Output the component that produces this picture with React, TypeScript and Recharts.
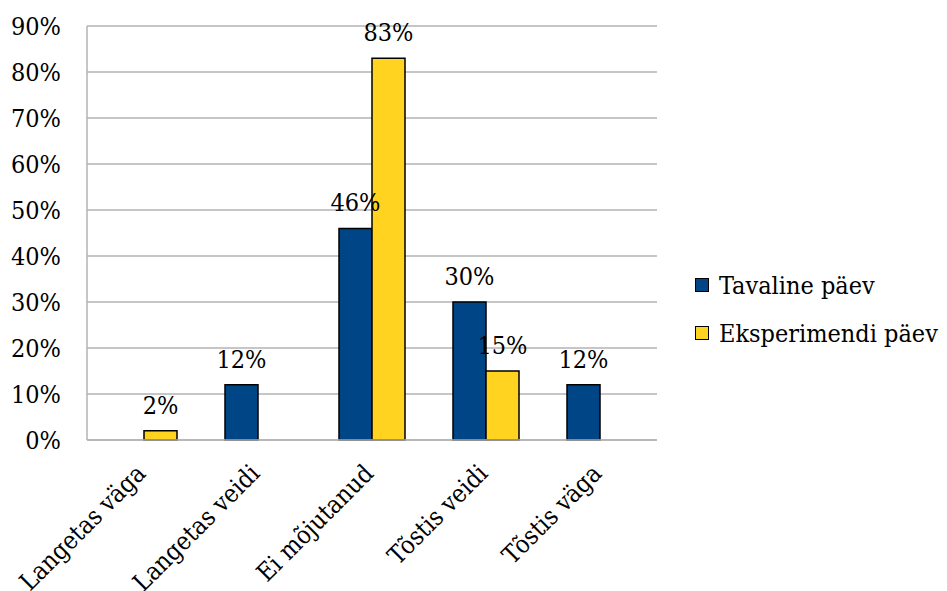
import { Bar, BarChart, CartesianGrid, LabelList, Legend, XAxis, YAxis } from "recharts";

const categories = ["Langetas väga", "Langetas veidi", "Ei mõjutanud", "Tõstis veidi", "Tõstis väga"];
const tavaline = [0, 12, 46, 30, 12];
const eksperimendi = [2, 0, 83, 15, 0];
const yTicks = [0, 10, 20, 30, 40, 50, 60, 70, 80, 90];

const seriesNames = ["Tavaline päev", "Eksperimendi päev"];
const seriesColors = ["#004586", "#ffd320"];

const data = categories.map((name, i) => ({
  name,
  tavaline: tavaline[i],
  eksperimendi: eksperimendi[i],
}));

// Liberation Serif is not picked up here, the condensed DejaVu face is the closest serif
const FONT = "'DejaVu Serif Condensed', 'DejaVu Serif'";
const FS = 25;
const textStyle = { fontFamily: FONT, fontSize: FS, fontStretch: "condensed" };
const GRID = "#b3b3b3";

function XTick({ x, y, payload }: any) {
  const tx = x + 3;
  const ty = y + 27;
  return (
    <text
      x={tx}
      y={ty}
      transform={`rotate(-45 ${tx} ${ty})`}
      textAnchor="end"
      style={textStyle}
      fill="#000"
    >
      {payload.value}
    </text>
  );
}

function LegendBox() {
  return (
    <div style={{ ...textStyle, color: "#000", whiteSpace: "nowrap" }}>
      {seriesNames.map((n, i) => (
        <div key={n} style={{ display: "flex", alignItems: "center", height: 48 }}>
          <span
            style={{
              display: "inline-block",
              width: 12,
              height: 12,
              background: seriesColors[i],
              border: "1.5px solid #000",
              marginRight: 10,
            }}
          />
          <span>{n}</span>
        </div>
      ))}
    </div>
  );
}

const pct = (v: any) => (v ? `${v}%` : "");

export default function App() {
  return (
    <div style={{ position: "absolute", left: 0, top: 0, background: "#fff" }}>
      <BarChart
        width={947}
        height={591}
        data={data}
        margin={{ top: 26, right: 290, bottom: 0, left: 0 }}
        barGap={0}
      >
        <CartesianGrid vertical={false} stroke={GRID} strokeWidth={1.5} />
        <XAxis
          dataKey="name"
          height={151}
          interval={0}
          tickLine={false}
          axisLine={{ stroke: GRID, strokeWidth: 1.5 }}
          tick={<XTick />}
        />
        <YAxis
          width={87}
          domain={[0, 90]}
          ticks={yTicks}
          tickFormatter={(v) => `${v}%`}
          tickLine={false}
          tickSize={0}
          tickMargin={26}
          axisLine={{ stroke: GRID, strokeWidth: 1.5 }}
          tick={{ style: textStyle, fill: "#000" }}
        />
        <YAxis
          yAxisId="r"
          orientation="right"
          width={0}
          tick={false}
          tickLine={false}
          axisLine={{ stroke: GRID, strokeWidth: 1.5 }}
        />
        <Legend
          layout="vertical"
          align="center"
          verticalAlign="middle"
          content={<LegendBox />}
          wrapperStyle={{ left: 695, top: 261, width: 252 }}
        />
        <Bar
          dataKey="tavaline"
          name={seriesNames[0]}
          fill={seriesColors[0]}
          stroke="#000"
          strokeWidth={1.5}
          barSize={33}
          isAnimationActive={false}
        >
          <LabelList
            dataKey="tavaline"
            position="top"
            offset={17}
            formatter={pct}
            style={{ ...textStyle, fill: "#000" }}
          />
        </Bar>
        <Bar
          dataKey="eksperimendi"
          name={seriesNames[1]}
          fill={seriesColors[1]}
          stroke="#000"
          strokeWidth={1.5}
          barSize={33}
          isAnimationActive={false}
        >
          <LabelList
            dataKey="eksperimendi"
            position="top"
            offset={17}
            formatter={pct}
            style={{ ...textStyle, fill: "#000" }}
          />
        </Bar>
      </BarChart>
    </div>
  );
}
